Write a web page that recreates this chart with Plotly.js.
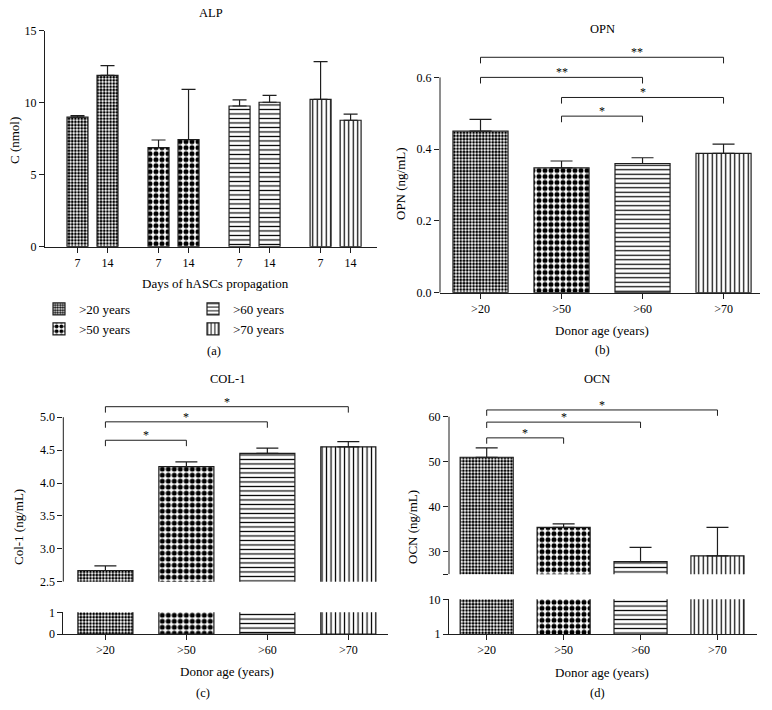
<!DOCTYPE html>
<html>
<head>
<meta charset="utf-8">
<script src="https://cdn.plot.ly/plotly-3.0.1.min.js"></script>
<style>body{margin:0;background:#fff}</style>
</head>
<body>
<div id="graph" style="width:772px;height:710px"></div>
<script>
// data
const ageGroups = ['>20', '>50', '>60', '>70'];
const legendNames = ['>20 years', '>50 years', '>60 years', '>70 years'];
const alpDays = ['7', '14'];
const alpDay7 = [9.0, 6.88, 9.77, 10.23];
const alpDay7Err = [0.1, 0.53, 0.42, 2.62];
const alpDay14 = [11.9, 7.43, 10.03, 8.78];
const alpDay14Err = [0.67, 3.5, 0.48, 0.43];

const opn = [0.45, 0.348, 0.36, 0.388];
const opnErr = [0.033, 0.019, 0.016, 0.026];
const opnPairs = [[0, 3], [0, 2], [1, 3], [1, 2]];
const opnLevels = [0.656, 0.600, 0.544, 0.492];
const opnStars = ['**', '**', '*', '*'];
const opnStarX = [1.93, 1, 2, 1.5];

const col1 = [2.67, 4.25, 4.45, 4.55];
const col1Err = [0.07, 0.07, 0.08, 0.08];
const col1Pairs = [[0, 3], [0, 2], [0, 1]];
const col1Levels = [5.16, 4.93, 4.65];
const col1Stars = ['*', '*', '*'];

const ocn = [51.0, 35.4, 27.8, 29.1];
const ocnErr = [2.1, 0.8, 3.2, 6.3];
const ocnPairs = [[0, 3], [0, 2], [0, 1]];
const ocnLevels = [61.5, 58.8, 55.3];
const ocnStars = ['*', '*', '*'];

const INK = '#1e1e1e';
const W = 772, H = 710;
const patShape = ['.', '.', '-', '|'];
const patSize = [3.2, 6, 4.5, 4.5];
const patSolid = [0.55, 0.55, 0.27, 0.27];

function dx(a, b) { return [a / W, b / W]; }
function dy(top, bottom) { return [1 - bottom / H, 1 - top / H]; }

function pattern(idx) {
    return {
        shape: idx.map(i => patShape[i]),
        size: idx.map(i => patSize[i]),
        solidity: idx.map(i => patSolid[i]),
        fgcolor: 'black',
        bgcolor: 'white',
        fgopacity: 1
    };
}

function bars(x, y, err, xa, ya, width, capw) {
    let idx = y.map((v, i) => i);
    let t = {
        type: 'bar', x: x, y: y, xaxis: xa, yaxis: ya, width: width,
        marker: {color: 'white', line: {color: INK, width: 1.2}, pattern: pattern(idx)},
        showlegend: false, hoverinfo: 'skip'
    };
    if (err) {
        t.error_y = {type: 'data', symmetric: false, array: err, arrayminus: err.map(() => 0),
            color: INK, thickness: 1.2, width: capw};
    }
    return t;
}

let traces = [];
let annotations = [];
let shapes = [];

// panel a, one trace per donor group so they show in the legend
ageGroups.forEach((g, i) => {
    let xs = alpDays.map((d, j) => i * 2.7 + j);
    traces.push({
        type: 'bar', x: xs, y: [alpDay7[i], alpDay14[i]], xaxis: 'x', yaxis: 'y', width: 0.7,
        name: legendNames[i], legend: i < 2 ? 'legend' : 'legend2', legendrank: i,
        marker: {color: 'white', line: {color: INK, width: 1.2},
            pattern: {shape: patShape[i], size: patSize[i], solidity: patSolid[i],
                fgcolor: 'black', bgcolor: 'white', fgopacity: 1}},
        error_y: {type: 'data', symmetric: false, array: [alpDay7Err[i], alpDay14Err[i]],
            arrayminus: [0, 0], color: INK, thickness: 1.2, width: 7},
        hoverinfo: 'skip'
    });
});
let alpTickVals = [];
let alpTickText = [];
ageGroups.forEach((g, i) => alpDays.forEach((d, j) => {
    alpTickVals.push(i * 2.7 + j);
    alpTickText.push(d);
}));

// panels b, c, d
traces.push(bars(ageGroups, opn, opnErr, 'x2', 'y2', 0.68, 11));
traces.push(bars(ageGroups, col1, col1Err, 'x3', 'y3', 0.68, 11));
traces.push(bars(ageGroups, col1, null, 'x3', 'y4', 0.68, 11));
traces.push(bars(ageGroups, ocn, ocnErr, 'x4', 'y5', 0.69, 11));
traces.push(bars(ageGroups, ocn, null, 'x4', 'y6', 0.69, 11));

function brackets(pairs, levels, stars, starX, drop, xa, ya) {
    pairs.forEach((p, k) => {
        let top = levels[k];
        traces.push({
            type: 'scatter', mode: 'lines', xaxis: xa, yaxis: ya,
            x: [ageGroups[p[0]], ageGroups[p[0]], ageGroups[p[1]], ageGroups[p[1]]],
            y: [top - drop, top, top, top - drop],
            line: {color: INK, width: 1}, showlegend: false, hoverinfo: 'skip'
        });
        annotations.push({
            xref: xa, yref: ya, x: starX ? starX[k] : (p[0] + p[1]) / 2, y: top,
            yanchor: 'bottom', text: stars[k], showarrow: false, yshift: -4,
            font: {size: 12, color: 'black'}
        });
    });
}
brackets(opnPairs, opnLevels, opnStars, opnStarX, 0.017, 'x2', 'y2');
brackets(col1Pairs, col1Levels, col1Stars, null, 0.09, 'x3', 'y3');
brackets(ocnPairs, ocnLevels, ocnStars, null, 1.3, 'x4', 'y5');

// y axis lines that stop below the brackets
shapes.push({type: 'line', xref: 'x2 domain', yref: 'y2', x0: 0, x1: 0, y0: 0, y1: 0.6, line: {color: INK, width: 1}});
shapes.push({type: 'line', xref: 'x3 domain', yref: 'y3', x0: 0, x1: 0, y0: 2.5, y1: 5.0, line: {color: INK, width: 1}});
shapes.push({type: 'line', xref: 'x4 domain', yref: 'y5', x0: 0, x1: 0, y0: 25, y1: 60, line: {color: INK, width: 1}});

function label(text, px, py, size, rot) {
    annotations.push({xref: 'paper', yref: 'paper', x: px / W, y: 1 - py / H,
        xanchor: 'center', yanchor: 'middle', text: text, showarrow: false,
        textangle: rot || 0, font: {size: size, color: 'black'}});
}
label('ALP', 211, 13, 12.5);
label('C (nmol)', 15, 141, 13, -90);
label('Days of hASCs propagation', 215, 283, 13);
label('(a)', 214, 351, 12.5);
label('OPN', 602, 29, 12.5);
label('OPN (ng/mL)', 400, 183, 13, -90);
label('Donor age (years)', 602, 330, 13);
label('(b)', 602, 350, 12.5);
label('COL-1', 227, 379, 12.5);
label('Col-1 (ng/mL)', 18, 527, 13, -90);
label('Donor age (years)', 227, 671, 13);
label('(c)', 203, 693, 12.5);
label('OCN', 597, 379, 12.5);
label('OCN (ng/mL)', 412, 527, 13, -90);
label('Donor age (years)', 602, 672, 13);
label('(d)', 597, 693, 12.5);

const axisBase = {
    showgrid: false, zeroline: false, showline: true, linecolor: INK, linewidth: 1,
    ticks: 'outside', ticklen: 5, tickwidth: 1, tickcolor: INK,
    tickfont: {size: 12, color: 'black'}, fixedrange: true
};

let layout = {
    width: W, height: H,
    margin: {l: 0, r: 0, t: 0, b: 0},
    paper_bgcolor: 'white', plot_bgcolor: 'white',
    font: {family: 'Liberation Serif, Times New Roman, serif', color: 'black'},
    barmode: 'overlay',
    xaxis: {...axisBase, domain: dx(45, 377), range: [-1.083, 9.98], tickvals: alpTickVals, ticktext: alpTickText, anchor: 'y'},
    yaxis: {...axisBase, domain: dy(30.7, 246.7), range: [0, 15], tickvals: [0, 5, 10, 15], anchor: 'x'},
    xaxis2: {...axisBase, type: 'category', domain: dx(440, 760), range: [-0.5, 3.45], anchor: 'y2'},
    yaxis2: {...axisBase, showline: false, domain: dy(41.5, 292.7), range: [0, 0.7], tickvals: [0, 0.2, 0.4, 0.6], tickformat: '.1f', anchor: 'x2'},
    xaxis3: {...axisBase, type: 'category', domain: dx(63.3, 388), range: [-0.52, 3.49], anchor: 'y4'},
    yaxis3: {...axisBase, showline: false, domain: dy(394.2, 581.7), range: [2.5, 5.35], tickvals: [2.5, 3, 3.5, 4, 4.5, 5], tickformat: '.1f', anchor: 'x3'},
    yaxis4: {...axisBase, domain: dy(612.3, 634), range: [0, 1], tickvals: [0, 1], anchor: 'x3'},
    xaxis4: {...axisBase, type: 'category', domain: dx(449, 756.7), range: [-0.49, 3.51], anchor: 'y6'},
    yaxis5: {...axisBase, showline: false, domain: dy(398.7, 574.3), range: [25, 64], tickvals: [25, 30, 40, 50, 60], ticktext: ['', '30', '40', '50', '60'], anchor: 'x4'},
    yaxis6: {...axisBase, domain: dy(599.3, 634), range: [1, 10], tickvals: [1, 10], anchor: 'x4'},
    legend: {x: 39 / W, xanchor: 'left', y: 1 - 294 / H, yanchor: 'top', orientation: 'v',
        font: {size: 13, color: 'black'}, bgcolor: 'rgba(0,0,0,0)', tracegroupgap: 0},
    legend2: {x: 193 / W, xanchor: 'left', y: 1 - 294 / H, yanchor: 'top', orientation: 'v',
        font: {size: 13, color: 'black'}, bgcolor: 'rgba(0,0,0,0)', tracegroupgap: 0},
    annotations: annotations,
    shapes: shapes
};

Plotly.newPlot('graph', traces, layout, {staticPlot: true});
</script>
</body>
</html>
